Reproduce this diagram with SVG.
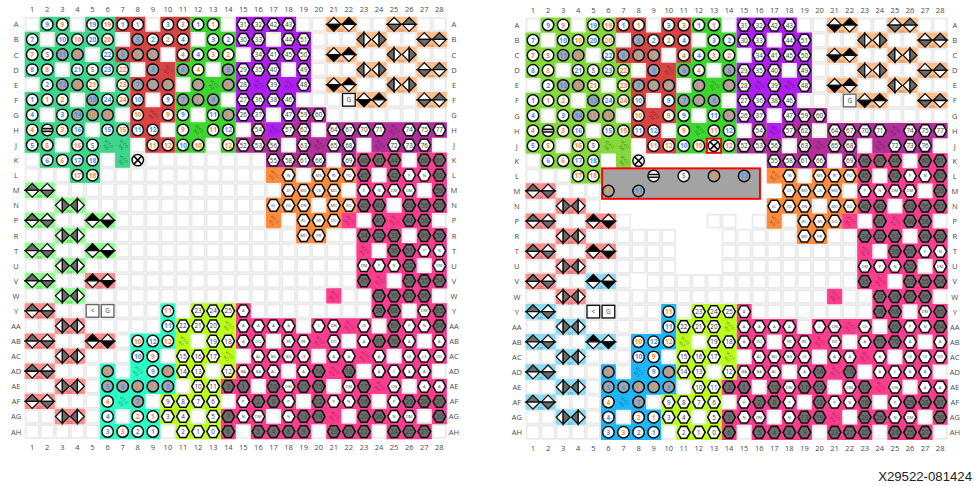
<svg xmlns="http://www.w3.org/2000/svg" width="974" height="486" viewBox="0 0 974 486">
<style>
text{font-family:"Open Sans","Liberation Sans",sans-serif;text-anchor:middle;dominant-baseline:central;font-size:.42px;font-weight:500;fill:#3a3a3a}
.b text{fill:#3f94f2;font-size:.44px;font-weight:700}.o text{fill:#f28e34;font-size:.44px;font-weight:700}
.t text{font-size:.27px;fill:#444}
.a text{font-size:.5px;font-weight:400;fill:#4a4a4a}
.d text{font-size:.22px;fill:#000;fill-opacity:.55}
.v text{font-size:.26px;fill:#000;fill-opacity:.6}
.f{fill:none;stroke-width:1.02}
.m{fill:none;stroke:none}
marker{overflow:visible}
.mc{marker:url(#c)}.mg{marker:url(#g)}.mh{marker:url(#h)}.mH{marker:url(#H)}
.wk{marker:url(#wk)}.kw{marker:url(#kw)}.gw{marker:url(#gw)}.wg{marker:url(#wg)}.lw{marker:url(#lw)}.wl{marker:url(#wl)}
.bx{fill:#fff;stroke-width:.09}
.p{stroke:#0c0c0c;stroke-width:.1}
.q{stroke:#111;stroke-width:.085}
</style>
<defs>
<pattern id="grid" patternUnits="userSpaceOnUse" x="-.5" y="-.5" width="1" height="1"><rect x=".07" y=".07" width=".86" height=".86" fill="#fff" stroke="#e6e6e6" stroke-width=".1"/></pattern>
<marker id="c" markerUnits="userSpaceOnUse" markerWidth="1" markerHeight="1" refX=".5" refY=".5" viewBox="0 0 1 1"><circle class="p" cx=".5" cy=".5" r=".38" fill="#fff"/></marker>
<marker id="g" markerUnits="userSpaceOnUse" markerWidth="1" markerHeight="1" refX=".5" refY=".5" viewBox="0 0 1 1"><circle class="p" cx=".5" cy=".5" r=".38" fill="#a6a6a6"/></marker>
<marker id="h" markerUnits="userSpaceOnUse" markerWidth="1" markerHeight="1" refX=".5" refY=".5" viewBox="0 0 1 1"><path class="p" fill="#fff" d="M.08 .5L.3 .11H.7L.92 .5 .7 .89H.3z"/></marker>
<marker id="H" markerUnits="userSpaceOnUse" markerWidth="1" markerHeight="1" refX=".5" refY=".5" viewBox="0 0 1 1"><path class="p" fill="#6e6e6e" d="M.08 .5L.3 .11H.7L.92 .5 .7 .89H.3z"/></marker>
<marker id="wk" markerUnits="userSpaceOnUse" markerWidth="1" markerHeight="1" refX=".5" refY=".5" viewBox="0 0 1 1"><g class="q"><path fill="#fff" d="M.04 .5L.5 .04 .96 .5z"/><path fill="#000" d="M.04 .5L.5 .96 .96 .5z"/></g></marker>
<marker id="kw" markerUnits="userSpaceOnUse" markerWidth="1" markerHeight="1" refX=".5" refY=".5" viewBox="0 0 1 1"><g class="q"><path fill="#000" d="M.04 .5L.5 .04 .96 .5z"/><path fill="#fff" d="M.04 .5L.5 .96 .96 .5z"/></g></marker>
<marker id="gw" markerUnits="userSpaceOnUse" markerWidth="1" markerHeight="1" refX=".5" refY=".5" viewBox="0 0 1 1"><g class="q"><path fill="#6a6a6a" d="M.04 .5L.5 .04 .96 .5z"/><path fill="#fff" d="M.04 .5L.5 .96 .96 .5z"/></g></marker>
<marker id="wg" markerUnits="userSpaceOnUse" markerWidth="1" markerHeight="1" refX=".5" refY=".5" viewBox="0 0 1 1"><g class="q"><path fill="#fff" d="M.04 .5L.5 .04 .96 .5z"/><path fill="#6a6a6a" d="M.04 .5L.5 .96 .96 .5z"/></g></marker>
<marker id="lw" markerUnits="userSpaceOnUse" markerWidth="1" markerHeight="1" refX=".5" refY=".5" viewBox="0 0 1 1"><g class="q"><path fill="#6a6a6a" d="M.5 .04L.04 .5 .5 .96z"/><path fill="#fff" d="M.5 .04L.96 .5 .5 .96z"/></g></marker>
<marker id="wl" markerUnits="userSpaceOnUse" markerWidth="1" markerHeight="1" refX=".5" refY=".5" viewBox="0 0 1 1"><g class="q"><path fill="#fff" d="M.5 .04L.04 .5 .5 .96z"/><path fill="#6a6a6a" d="M.5 .04L.96 .5 .5 .96z"/></g></marker>
<g id="minus"><circle class="p" r=".38" fill="#fff"/><path stroke="#0c0c0c" stroke-width=".11" d="M-.36 -.09H.36M-.38 .09H.38"/></g>
<g id="cross"><circle class="p" r=".38" fill="#fff"/><path stroke="#0c0c0c" stroke-width=".11" d="M-.26 -.26L.26 .26M-.26 .26L.26 -.26"/></g>
<g id="base">
<g class="f" transform="translate(-.5 0)">
<path style="stroke:var(--a)" d="M1 0H3M4 0H6M0 1H1M2 1H6M0 2H4M5 2H6M0 3H2M3 3H7M1 4H5M6 4H7M0 5H3M4 5H7M0 6H1M2 6H6M0 7H4M5 7H7M0 8H2M3 8H7M1 9H5M6 9H7M3 10H5"/>
<path stroke="#d94343" d="M6 0H8M9 0H11M7 1H11M6 2H9M10 2H11M8 3H10M7 4H10M7 5H8M9 5H10M7 6H10M7 7H9M8 8H10"/>
<path stroke="#3dd62f" d="M11 0H13M12 1H14M11 2H14M10 3H12M13 3H14M11 4H14M10 5H13M10 6H11M12 6H14M10 7H14M10 8H12M13 8H14"/>
<path stroke="#b01ff2" d="M14 0H18M14 1H16M17 1H19M15 2H19M14 3H17M18 3H19M14 4H19M14 5H18M14 6H16M17 6H18M16 7H17"/>
<path stroke="#b3309a" d="M18 6H20M15 7H16M17 7H19M20 7H28M14 8H17M18 8H22M23 8H27M16 9H20M21 9H22"/>
<path stroke="#ff8c3c" d="M16 10H18M19 10H22M17 11H21M16 12H19M20 12H22M16 13H17M18 13H21M18 14H20"/>
<path stroke="#ff3d8f" d="M22 9H25M26 9H28M22 10H23M24 10H28M22 11H26M27 11H28M22 12H24M25 12H28M21 13H22M23 13H27M22 14H25M26 14H28M22 15H23M24 15H28M22 16H26M27 16H28M22 17H24M25 17H28M20 18H21M23 18H27M14 19H15M23 19H25M26 19H28M14 20H18M19 20H23M24 20H28M14 21H16M17 21H21M22 21H26M27 21H28M15 22H19M20 22H24M25 22H28M14 23H17M18 23H22M23 23H27M13 24H15M16 24H20M21 24H25M26 24H28M14 25H18M19 25H23M24 25H28M13 26H16M17 26H21M22 26H26M27 26H28M13 27H14M15 27H19M20 27H23M24 27H27"/>
<path style="stroke:var(--l)" d="M0 11H2M2 12H4M0 13H2M4 13H6M2 14H4M0 15H2M4 15H6M2 16H4M0 17H2M2 18H4"/>
<path style="stroke:var(--s)" d="M4 17H6M0 19H2M2 20H4M0 21H2M4 21H6M2 22H4M0 23H2M2 24H4M0 25H2M2 26H4"/>
<path stroke="#ffbe8c" d="M20 0H22M24 0H26M22 1H24M26 1H28M20 2H22M24 2H26M22 3H24M26 3H28M20 4H22M24 4H26M22 5H24M26 5H28"/>
<path style="stroke:var(--t)" d="M9 19H10M9 20H10M7 21H10M7 22H9M5 23H6M7 23H10M5 24H10M5 25H8M5 26H6M7 26H9M5 27H9"/>
<path stroke="#bcff1a" d="M11 19H14M10 20H14M10 21H11M12 21H14M10 22H14M10 23H12M13 23H14M11 24H13M9 25H13M9 26H11M12 26H13M10 27H13"/>
</g>
<g class="m">
<path class="mc" d="M1 0H2 4 5 6 7 9 10 11 12L0 1H2 3 4 5 8 9 10 12 13L0 2H1 5 10 11 12 13L0 3H1 3 4 5 6 11L1 4H4 6L0 5H1 2 5 6 7 9L0 6H2 7 9 10 12L0 7H2 3 5 6 7 8 10 12 13L0 8H1 3 4 8 9 10 11 13L1 9H2 3 4L3 10H4L9 19L9 20L7 21H8 9L7 22H8L8 23L5 25L5 26H7 8L5 27H6 7 8"/>
<path class="mg" d="M7 1L2 2H3 6 7 8L8 3H10 13L2 4H3 7 8 9 11 13L4 5H10 11 12L3 6H4 5 13L5 23H9L5 24H6 7 8 9L7 25"/>
<path class="mh" d="M14 0H15 16 17L14 1H15 17 18L15 2H16 17 18L14 3H15 16 18L14 4H16 18L14 5H15 16 17L14 6H15 17 18 19L15 7H17 18 20 21 22 23 25 26 27L14 8H15 16 18 20 21 24 25 26L16 9H17 18 19 21L17 10H19 20 21 25 26L17 11H18 19 20 22 23 24 25L16 12H17 18 20 21L18 13H19 20L18 14H19L26 15H27L22 16H23 24 27L11 19H12 13 14 26L10 20H11 12 14 15 16 17 19 20 22 25 26L12 21H13 14 15 17 18 20 22 25 27L10 22H11 12 15 16 17 18 20 21 23 25 26 27L10 23H11 13 14 15 16 18 23 24 25 26L11 24H12 17 21 24 26 27L9 25H10 11 12 14 17 20 21 24L9 26H10 12 14 15 17 24 25L10 27H11 12"/>
<path class="mH" d="M22 9H23 24 26 27L22 10H24 27L27 11L22 12H23 25 26 27L23 13H25 26L22 14H23 24 26 27L24 15H25L25 16L22 17H25 26 27L23 18H24 25 26L23 19H24 27L24 20H27L23 21H24L19 23H21L13 24H14 16 18 19 22L15 25H16 19 22 25 26 27L13 26H18 19 22 23 27L13 27H15 16 17 18 20 21 22 24 25 26"/>
<path class="wk" d="M20 0V2 4L22 5L5 13V15 17 21"/>
<path class="kw" d="M21 0V2 4L23 5L4 13V15 17 21"/>
<path class="gw" d="M0 11V13 15 17 19 21 23 25L25 0L27 1V3 5"/>
<path class="wg" d="M1 11V13 15 17 19 21 23 25L24 0L26 1V3 5"/>
<path class="lw" d="M22 1V3L24 2V4L3 12V14 16 18 20 22 24 26"/>
<path class="wl" d="M23 1V3L25 2V4L2 12V14 16 18 20 22 24 26"/>
</g>
<use href="#minus" x="1" y="7"/>
<use href="#cross" x="7" y="9"/>
</g>
</defs>

<g id="panel-left" transform="translate(32.2 24.4) scale(15.08)" style="--a:#3dd68c;--l:#8fff8f;--s:#ff8f8f;--t:#2bffc6">
<rect x="-.5" y="-.5" width="28" height="28" fill="url(#grid)"/>
<use href="#base"/>
<rect class="bx" stroke="#111" x="20.58" y="4.58" width=".84" height=".84"/>
<rect class="bx" stroke="#666" x="3.58" y="18.58" width=".84" height=".84"/>
<rect class="bx" stroke="#666" x="4.58" y="18.58" width=".84" height=".84"/>
<text x="21" y="5">G</text><text x="4" y="19">&lt;</text><text x="5" y="19">G</text>
<g class="a">
<g transform="translate(0 -1)"><text>1</text><text x="1">2</text><text x="2">3</text><text x="3">4</text><text x="4">5</text><text x="5">6</text><text x="6">7</text><text x="7">8</text><text x="8">9</text><text x="9">10</text><text x="10">11</text><text x="11">12</text><text x="12">13</text><text x="13">14</text><text x="14">15</text><text x="15">16</text><text x="16">17</text><text x="17">18</text><text x="18">19</text><text x="19">20</text><text x="20">21</text><text x="21">22</text><text x="22">23</text><text x="23">24</text><text x="24">25</text><text x="25">26</text><text x="26">27</text><text x="27">28</text></g>
<g transform="translate(0 28.03)"><text>1</text><text x="1">2</text><text x="2">3</text><text x="3">4</text><text x="4">5</text><text x="5">6</text><text x="6">7</text><text x="7">8</text><text x="8">9</text><text x="9">10</text><text x="10">11</text><text x="11">12</text><text x="12">13</text><text x="13">14</text><text x="14">15</text><text x="15">16</text><text x="16">17</text><text x="17">18</text><text x="18">19</text><text x="19">20</text><text x="20">21</text><text x="21">22</text><text x="22">23</text><text x="23">24</text><text x="24">25</text><text x="25">26</text><text x="26">27</text><text x="27">28</text></g>
<g transform="translate(-1.07 0)"><text>A</text><text y="1">B</text><text y="2">C</text><text y="3">D</text><text y="4">E</text><text y="5">F</text><text y="6">G</text><text y="7">H</text><text y="8">J</text><text y="9">K</text><text y="10">L</text><text y="11">M</text><text y="12">N</text><text y="13">P</text><text y="14">R</text><text y="15">T</text><text y="16">U</text><text y="17">V</text><text y="18">W</text><text y="19">Y</text><text y="20">AA</text><text y="21">AB</text><text y="22">AC</text><text y="23">AD</text><text y="24">AE</text><text y="25">AF</text><text y="26">AG</text><text y="27">AH</text></g>
<g transform="translate(27.97 0)"><text>A</text><text y="1">B</text><text y="2">C</text><text y="3">D</text><text y="4">E</text><text y="5">F</text><text y="6">G</text><text y="7">H</text><text y="8">J</text><text y="9">K</text><text y="10">L</text><text y="11">M</text><text y="12">N</text><text y="13">P</text><text y="14">R</text><text y="15">T</text><text y="16">U</text><text y="17">V</text><text y="18">W</text><text y="19">Y</text><text y="20">AA</text><text y="21">AB</text><text y="22">AC</text><text y="23">AD</text><text y="24">AE</text><text y="25">AF</text><text y="26">AG</text><text y="27">AH</text></g>
</g>
<g class="b"><text x="1" y="0">9</text><text x="4" y="0">19</text><text x="6" y="0">1</text><text x="9" y="0">3</text><text x="11" y="0">1</text><text x="0" y="1">7</text><text x="2" y="1">10</text><text x="4" y="1">20</text><text x="7" y="1">5</text><text x="8" y="1">2</text><text x="10" y="1">4</text><text x="12" y="1">3</text><text x="13" y="1">2</text><text x="2" y="2">11</text><text x="5" y="2">22</text><text x="6" y="2">6</text><text x="11" y="2">4</text><text x="0" y="3">8</text><text x="3" y="3">21</text><text x="5" y="3">23</text><text x="8" y="3">8</text><text x="10" y="3">6</text><text x="13" y="3">5</text><text x="1" y="4">2</text><text x="2" y="4">12</text><text x="7" y="4">7</text><text x="0" y="5">1</text><text x="4" y="5">13</text><text x="5" y="5">24</text><text x="7" y="5">10</text><text x="9" y="5">9</text><text x="10" y="5">7</text><text x="12" y="5">8</text><text x="0" y="6">4</text><text x="2" y="6">3</text><text x="3" y="6">14</text><text x="10" y="6">9</text><text x="12" y="6">11</text><text x="3" y="7">16</text><text x="5" y="7">15</text><text x="7" y="7">11</text><text x="8" y="7">12</text><text x="13" y="7">12</text><text x="0" y="8">5</text><text x="10" y="8">10</text><text x="1" y="9">6</text><text x="3" y="9">17</text><text x="4" y="9">18</text><text x="9" y="20">11</text><text x="8" y="21">12</text><text x="7" y="22">10</text><text x="8" y="23">9</text><text x="5" y="24">5</text><text x="6" y="24">6</text><text x="9" y="24">8</text><text x="7" y="25">7</text><text x="5" y="26">4</text><text x="5" y="27">3</text><text x="7" y="27">2</text><text x="8" y="27">1</text></g>
<g class="o"><text x="2" y="0">9</text><text x="5" y="0">19</text><text x="7" y="0">1</text><text x="10" y="0">3</text><text x="12" y="0">1</text><text x="3" y="1">10</text><text x="5" y="1">20</text><text x="9" y="1">2</text><text x="0" y="2">7</text><text x="3" y="2">11</text><text x="7" y="2">6</text><text x="8" y="2">5</text><text x="10" y="2">4</text><text x="12" y="2">3</text><text x="13" y="2">2</text><text x="1" y="3">8</text><text x="6" y="3">22</text><text x="11" y="3">4</text><text x="3" y="4">12</text><text x="4" y="4">21</text><text x="6" y="4">23</text><text x="8" y="4">7</text><text x="9" y="4">8</text><text x="11" y="4">6</text><text x="13" y="4">5</text><text x="1" y="5">1</text><text x="2" y="5">2</text><text x="6" y="5">24</text><text x="11" y="5">7</text><text x="4" y="6">14</text><text x="5" y="6">13</text><text x="7" y="6">10</text><text x="9" y="6">9</text><text x="13" y="6">8</text><text x="0" y="7">4</text><text x="2" y="7">3</text><text x="6" y="7">15</text><text x="10" y="7">9</text><text x="12" y="7">11</text><text x="1" y="8">5</text><text x="3" y="8">16</text><text x="8" y="8">11</text><text x="9" y="8">12</text><text x="11" y="8">10</text><text x="13" y="8">12</text><text x="2" y="9">6</text><text x="3" y="10">17</text><text x="4" y="10">18</text><text x="9" y="19">11</text><text x="7" y="21">10</text><text x="9" y="21">12</text><text x="8" y="22">9</text><text x="5" y="23">5</text><text x="9" y="23">8</text><text x="7" y="24">6</text><text x="8" y="24">7</text><text x="5" y="25">4</text><text x="7" y="26">2</text><text x="8" y="26">1</text><text x="6" y="27">3</text></g>
<g><text x="1" y="2">S</text><text x="4" y="3">S</text><text x="4" y="8">S</text><text x="14" y="0">31</text><text x="15" y="0">32</text><text x="16" y="0">42</text><text x="17" y="0">43</text><text x="14" y="1">30</text><text x="15" y="1">33</text><text x="17" y="1">44</text><text x="18" y="1">51</text><text x="15" y="2">34</text><text x="16" y="2">41</text><text x="17" y="2">45</text><text x="18" y="2">50</text><text x="14" y="3">29</text><text x="15" y="3">35</text><text x="16" y="3">40</text><text x="18" y="3">49</text><text x="14" y="4">28</text><text x="16" y="4">39</text><text x="18" y="4">48</text><text x="14" y="5">27</text><text x="15" y="5">36</text><text x="16" y="5">38</text><text x="17" y="5">46</text><text x="14" y="6">26</text><text x="15" y="6">37</text><text x="17" y="6">47</text><text x="18" y="6">59</text><text x="19" y="6">60</text><text x="15" y="7">54</text><text x="17" y="7">57</text><text x="18" y="7">62</text><text x="20" y="7">64</text><text x="21" y="7">67</text><text x="22" y="7">70</text><text x="23" y="7">71</text><text x="25" y="7">74</text><text x="26" y="7">75</text><text x="27" y="7">77</text><text x="14" y="8">52</text><text x="15" y="8">53</text><text x="16" y="8">56</text><text x="18" y="8">63</text><text x="20" y="8">65</text><text x="21" y="8">68</text><text x="24" y="8">72</text><text x="25" y="8">73</text><text x="26" y="8">76</text><text x="16" y="9">55</text><text x="17" y="9">58</text><text x="18" y="9">61</text><text x="19" y="9">66</text><text x="21" y="9">69</text><text x="11" y="19">23</text><text x="12" y="19">24</text><text x="13" y="19">25</text><text x="10" y="20">22</text><text x="11" y="20">21</text><text x="12" y="20">20</text><text x="12" y="21">19</text><text x="13" y="21">18</text><text x="10" y="22">15</text><text x="11" y="22">16</text><text x="12" y="22">17</text><text x="10" y="23">14</text><text x="11" y="23">13</text><text x="13" y="23">12</text><text x="11" y="24">10</text><text x="12" y="24">11</text><text x="9" y="25">9</text><text x="10" y="25">8</text><text x="11" y="25">7</text><text x="12" y="25">6</text><text x="9" y="26">3</text><text x="10" y="26">4</text><text x="12" y="26">5</text><text x="10" y="27">2</text><text x="11" y="27">1</text><text x="12" y="27">0</text>
<text x="22" y="9">46</text><text x="23" y="9">47</text><text x="24" y="9">44</text><text x="26" y="9">60</text><text x="27" y="9">61</text><text x="22" y="10">45</text><text x="24" y="10">42</text><text x="27" y="10">62</text><text x="27" y="11">59</text><text x="22" y="12">40</text><text x="23" y="12">43</text><text x="25" y="12">63</text><text x="26" y="12">56</text><text x="27" y="12">57</text><text x="23" y="13">41</text><text x="25" y="13">48</text><text x="26" y="13">58</text><text x="22" y="14">34</text><text x="23" y="14">32</text><text x="24" y="14">33</text><text x="26" y="14">49</text><text x="27" y="14">50</text><text x="24" y="15">36</text><text x="25" y="15">51</text><text x="25" y="16">52</text><text x="22" y="17">35</text><text x="25" y="17">53</text><text x="26" y="17">55</text><text x="27" y="17">54</text><text x="23" y="18">37</text><text x="24" y="18">39</text><text x="25" y="18">67</text><text x="26" y="18">66</text><text x="23" y="19">38</text><text x="24" y="19">68</text><text x="27" y="19">65</text><text x="24" y="20">69</text><text x="27" y="20">64</text><text x="23" y="21">71</text><text x="24" y="21">70</text><text x="19" y="23">14</text><text x="21" y="23">18</text><text x="13" y="24">3</text><text x="14" y="24">1</text><text x="16" y="24">10</text><text x="18" y="24">11</text><text x="19" y="24">15</text><text x="22" y="24">17</text><text x="15" y="25">2</text><text x="16" y="25">0</text><text x="19" y="25">12</text><text x="22" y="25">16</text><text x="25" y="25">29</text><text x="26" y="25">28</text><text x="27" y="25">31</text><text x="13" y="26">7</text><text x="18" y="26">13</text><text x="19" y="26">19</text><text x="22" y="26">20</text><text x="23" y="26">26</text><text x="27" y="26">30</text><text x="13" y="27">6</text><text x="15" y="27">5</text><text x="16" y="27">4</text><text x="17" y="27">8</text><text x="18" y="27">9</text><text x="20" y="27">23</text><text x="21" y="27">21</text><text x="22" y="27">22</text><text x="24" y="27">24</text><text x="25" y="27">25</text><text x="26" y="27">27</text></g>
<g class="t"><text x="17" y="10">IN</text><text x="19" y="10">MS</text><text x="20" y="10">RI</text><text x="21" y="10">FO</text><text x="25" y="10">P</text><text x="26" y="10">N</text><text x="17" y="11">DI</text><text x="18" y="11">MD</text><text x="19" y="11">CK</text><text x="20" y="11">MD</text><text x="22" y="11">P</text><text x="23" y="11">N</text><text x="24" y="11">DM</text><text x="25" y="11">DM</text><text x="16" y="12">EL</text><text x="17" y="12">FO</text><text x="18" y="12">DN</text><text x="20" y="12">MD</text><text x="21" y="12">EO</text><text x="18" y="13">RC</text><text x="19" y="13">SR</text><text x="20" y="13">DO</text><text x="18" y="14">MD</text><text x="19" y="14">PR</text><text x="26" y="15">P</text><text x="27" y="15">N</text><text x="22" y="16">DM</text><text x="23" y="16">P</text><text x="24" y="16">N</text><text x="27" y="16">DM</text><text x="14" y="19">A</text><text x="26" y="19">DM</text><text x="14" y="20">A</text><text x="15" y="20">A</text><text x="16" y="20">A</text><text x="17" y="20">A</text><text x="19" y="20">C</text><text x="20" y="20">ON</text><text x="22" y="20">CE</text><text x="25" y="20">P</text><text x="26" y="20">N</text><text x="14" y="21">A</text><text x="15" y="21">DQ</text><text x="17" y="21">RS</text><text x="18" y="21">RE</text><text x="20" y="21">DD</text><text x="22" y="21">A</text><text x="25" y="21">A</text><text x="27" y="21">A</text><text x="15" y="22">AL</text><text x="16" y="22">BG</text><text x="17" y="22">BG</text><text x="18" y="22">CE</text><text x="20" y="22">A</text><text x="21" y="22">A</text><text x="23" y="22">A</text><text x="25" y="22">CE</text><text x="26" y="22">CE</text><text x="27" y="22">DD</text><text x="14" y="23">BA</text><text x="15" y="23">BA</text><text x="16" y="23">AC</text><text x="18" y="23">A</text><text x="23" y="23">A</text><text x="24" y="23">C</text><text x="25" y="23">A</text><text x="26" y="23">A</text><text x="17" y="24">DM</text><text x="21" y="24">DM</text><text x="24" y="24">ON</text><text x="26" y="24">A</text><text x="27" y="24">A</text><text x="14" y="25">P</text><text x="17" y="25">P</text><text x="20" y="25">P</text><text x="21" y="25">N</text><text x="24" y="25">P</text><text x="14" y="26">N</text><text x="15" y="26">DM</text><text x="17" y="26">N</text><text x="24" y="26">N</text><text x="25" y="26">DM</text></g>
<g class="d" transform="translate(.47 .43)"><text x="20" y="0">505</text><text x="24" y="0">505</text><text x="22" y="1">505</text><text x="26" y="1">505</text><text x="20" y="2">505</text><text x="24" y="2">505</text><text x="22" y="3">505</text><text x="26" y="3">505</text><text x="20" y="4">505</text><text x="24" y="4">505</text><text x="22" y="5">505</text><text x="26" y="5">505</text><text x="0" y="11">206</text><text x="2" y="12">206</text><text x="0" y="13">206</text><text x="4" y="13">206</text><text x="2" y="14">206</text><text x="0" y="15">206</text><text x="4" y="15">206</text><text x="2" y="16">206</text><text x="0" y="17">206</text><text x="2" y="18">206</text><text x="4" y="17">205</text><text x="0" y="19">205</text><text x="2" y="20">205</text><text x="0" y="21">205</text><text x="4" y="21">205</text><text x="2" y="22">205</text><text x="0" y="23">205</text><text x="2" y="24">205</text><text x="0" y="25">205</text><text x="2" y="26">205</text></g>
<g class="v" transform="translate(.09 -.09)"><text transform="translate(5 8)rotate(45)">VCCO<tspan x="0" dy=".27">700</tspan></text><text transform="translate(6 8)rotate(45)">VCCO<tspan x="0" dy=".27">700</tspan></text><text transform="translate(6 9)rotate(45)">VCCO<tspan x="0" dy=".27">700</tspan></text><text transform="translate(9 3)rotate(45)">VCCO<tspan x="0" dy=".27">701</tspan></text><text transform="translate(8 6)rotate(45)">VCCO<tspan x="0" dy=".27">701</tspan></text><text transform="translate(12 4)rotate(45)">VCCO<tspan x="0" dy=".27">702</tspan></text><text transform="translate(11 7)rotate(45)">VCCO<tspan x="0" dy=".27">702</tspan></text><text transform="translate(15 4)rotate(45)">VCCO<tspan x="0" dy=".27">301</tspan></text><text transform="translate(17 4)rotate(45)">VCCO<tspan x="0" dy=".27">301</tspan></text><text transform="translate(16 7)rotate(45)">VCCO<tspan x="0" dy=".27">301</tspan></text><text transform="translate(24 7)rotate(45)">VCCO<tspan x="0" dy=".27">302</tspan></text><text transform="translate(19 8)rotate(45)">VCCO<tspan x="0" dy=".27">302</tspan></text><text transform="translate(23 8)rotate(45)">VCCO<tspan x="0" dy=".27">302</tspan></text><text transform="translate(16 10)rotate(45)">VCCO<tspan x="0" dy=".27">303</tspan></text><text transform="translate(16 13)rotate(45)">VCCO<tspan x="0" dy=".27">303</tspan></text><text transform="translate(21 13)rotate(45)">VCCO<tspan x="0" dy=".27">304</tspan></text><text transform="translate(24 13)rotate(45)">VCCO<tspan x="0" dy=".27">304</tspan></text><text transform="translate(22 15)rotate(45)">VCCO<tspan x="0" dy=".27">304</tspan></text><text transform="translate(23 17)rotate(45)">VCCO<tspan x="0" dy=".27">304</tspan></text><text transform="translate(20 18)rotate(45)">VCCO<tspan x="0" dy=".27">304</tspan></text><text transform="translate(21 20)rotate(45)">VCCO<tspan x="0" dy=".27">304</tspan></text><text transform="translate(19 21)rotate(45)">VCCO<tspan x="0" dy=".27">304</tspan></text><text transform="translate(22 22)rotate(45)">VCCO<tspan x="0" dy=".27">304</tspan></text><text transform="translate(20 23)rotate(45)">VCCO<tspan x="0" dy=".27">304</tspan></text><text transform="translate(23 24)rotate(45)">VCCO<tspan x="0" dy=".27">304</tspan></text><text transform="translate(20 26)rotate(45)">VCCO<tspan x="0" dy=".27">304</tspan></text><text transform="translate(13 20)rotate(45)">VCCO<tspan x="0" dy=".27">402</tspan></text><text transform="translate(10 21)rotate(45)">VCCO<tspan x="0" dy=".27">402</tspan></text><text transform="translate(13 22)rotate(45)">VCCO<tspan x="0" dy=".27">402</tspan></text><text transform="translate(7 23)rotate(45)">VCCO<tspan x="0" dy=".27">403</tspan></text><text transform="translate(6 25)rotate(45)">VCCO<tspan x="0" dy=".27">403</tspan></text></g>
</g>

<g id="panel-right" transform="translate(533 25.1) scale(15.08)" style="--a:#86d93a;--l:#ff8f8f;--s:#8cdcf5;--t:#1cb8ff">
<rect x="-.5" y="-.5" width="28" height="28" fill="url(#grid)"/>
<path class="f" stroke="#fff" transform="translate(-.5 0)" d="M7 8H8M5 9H6M8 9H16M5 10H16M5 11H17M5 12H16M7 13H12M14 13H15M10 14H13M10 15H13M10 16H13M7 17H8"/>
<use href="#base"/>
<rect x="4.58" y="9.5" width="10.47" height="2.02" fill="#a3a3a3" stroke="#f00" stroke-width=".13"/>
<path class="m mg" d="M12 10H14L5 11H7"/>
<use href="#minus" x="8" y="10"/>
<circle class="p" cx="10" cy="10" r=".38" fill="#fff"/>
<rect x="11.53" y="7.53" width=".94" height=".94" fill="#fff" stroke="#f00" stroke-width=".13"/>
<use href="#cross" x="12" y="8"/>
<rect class="bx" stroke="#666" x="20.58" y="4.58" width=".84" height=".84"/>
<rect class="bx" stroke="#111" x="3.58" y="18.58" width=".84" height=".84"/>
<rect class="bx" stroke="#111" x="4.58" y="18.58" width=".84" height=".84"/>
<text x="21" y="5">G</text><text x="4" y="19">&lt;</text><text x="5" y="19">G</text>
<text x="10" y="10">S</text>
<g class="o"><text x="12" y="10">12</text><text x="5" y="11">11</text></g>
<g class="b"><text x="14" y="10">12</text><text x="7" y="11">11</text></g>
<g class="a">
<g transform="translate(0 -1)"><text>1</text><text x="1">2</text><text x="2">3</text><text x="3">4</text><text x="4">5</text><text x="5">6</text><text x="6">7</text><text x="7">8</text><text x="8">9</text><text x="9">10</text><text x="10">11</text><text x="11">12</text><text x="12">13</text><text x="13">14</text><text x="14">15</text><text x="15">16</text><text x="16">17</text><text x="17">18</text><text x="18">19</text><text x="19">20</text><text x="20">21</text><text x="21">22</text><text x="22">23</text><text x="23">24</text><text x="24">25</text><text x="25">26</text><text x="26">27</text><text x="27">28</text></g>
<g transform="translate(0 28.03)"><text>1</text><text x="1">2</text><text x="2">3</text><text x="3">4</text><text x="4">5</text><text x="5">6</text><text x="6">7</text><text x="7">8</text><text x="8">9</text><text x="9">10</text><text x="10">11</text><text x="11">12</text><text x="12">13</text><text x="13">14</text><text x="14">15</text><text x="15">16</text><text x="16">17</text><text x="17">18</text><text x="18">19</text><text x="19">20</text><text x="20">21</text><text x="21">22</text><text x="22">23</text><text x="23">24</text><text x="24">25</text><text x="25">26</text><text x="26">27</text><text x="27">28</text></g>
<g transform="translate(-1.07 0)"><text>A</text><text y="1">B</text><text y="2">C</text><text y="3">D</text><text y="4">E</text><text y="5">F</text><text y="6">G</text><text y="7">H</text><text y="8">J</text><text y="9">K</text><text y="10">L</text><text y="11">M</text><text y="12">N</text><text y="13">P</text><text y="14">R</text><text y="15">T</text><text y="16">U</text><text y="17">V</text><text y="18">W</text><text y="19">Y</text><text y="20">AA</text><text y="21">AB</text><text y="22">AC</text><text y="23">AD</text><text y="24">AE</text><text y="25">AF</text><text y="26">AG</text><text y="27">AH</text></g>
<g transform="translate(27.97 0)"><text>A</text><text y="1">B</text><text y="2">C</text><text y="3">D</text><text y="4">E</text><text y="5">F</text><text y="6">G</text><text y="7">H</text><text y="8">J</text><text y="9">K</text><text y="10">L</text><text y="11">M</text><text y="12">N</text><text y="13">P</text><text y="14">R</text><text y="15">T</text><text y="16">U</text><text y="17">V</text><text y="18">W</text><text y="19">Y</text><text y="20">AA</text><text y="21">AB</text><text y="22">AC</text><text y="23">AD</text><text y="24">AE</text><text y="25">AF</text><text y="26">AG</text><text y="27">AH</text></g>
</g>
<g class="b"><text x="1" y="0">9</text><text x="4" y="0">19</text><text x="6" y="0">1</text><text x="9" y="0">3</text><text x="11" y="0">1</text><text x="0" y="1">7</text><text x="2" y="1">10</text><text x="4" y="1">20</text><text x="7" y="1">5</text><text x="8" y="1">2</text><text x="10" y="1">4</text><text x="12" y="1">3</text><text x="13" y="1">2</text><text x="2" y="2">11</text><text x="5" y="2">22</text><text x="6" y="2">6</text><text x="11" y="2">4</text><text x="0" y="3">8</text><text x="3" y="3">21</text><text x="5" y="3">23</text><text x="8" y="3">8</text><text x="10" y="3">6</text><text x="13" y="3">5</text><text x="1" y="4">2</text><text x="2" y="4">12</text><text x="7" y="4">7</text><text x="0" y="5">1</text><text x="4" y="5">13</text><text x="5" y="5">24</text><text x="7" y="5">10</text><text x="9" y="5">9</text><text x="10" y="5">7</text><text x="12" y="5">8</text><text x="0" y="6">4</text><text x="2" y="6">3</text><text x="3" y="6">14</text><text x="10" y="6">9</text><text x="12" y="6">11</text><text x="3" y="7">16</text><text x="5" y="7">15</text><text x="7" y="7">11</text><text x="8" y="7">12</text><text x="13" y="7">12</text><text x="0" y="8">5</text><text x="10" y="8">10</text><text x="1" y="9">6</text><text x="3" y="9">17</text><text x="4" y="9">18</text><text x="9" y="20">11</text><text x="8" y="21">12</text><text x="7" y="22">10</text><text x="8" y="23">9</text><text x="5" y="24">5</text><text x="6" y="24">6</text><text x="9" y="24">8</text><text x="7" y="25">7</text><text x="5" y="26">4</text><text x="5" y="27">3</text><text x="7" y="27">2</text><text x="8" y="27">1</text></g>
<g class="o"><text x="2" y="0">9</text><text x="5" y="0">19</text><text x="7" y="0">1</text><text x="10" y="0">3</text><text x="12" y="0">1</text><text x="3" y="1">10</text><text x="5" y="1">20</text><text x="9" y="1">2</text><text x="0" y="2">7</text><text x="3" y="2">11</text><text x="7" y="2">6</text><text x="8" y="2">5</text><text x="10" y="2">4</text><text x="12" y="2">3</text><text x="13" y="2">2</text><text x="1" y="3">8</text><text x="6" y="3">22</text><text x="11" y="3">4</text><text x="3" y="4">12</text><text x="4" y="4">21</text><text x="6" y="4">23</text><text x="8" y="4">7</text><text x="9" y="4">8</text><text x="11" y="4">6</text><text x="13" y="4">5</text><text x="1" y="5">1</text><text x="2" y="5">2</text><text x="6" y="5">24</text><text x="11" y="5">7</text><text x="4" y="6">14</text><text x="5" y="6">13</text><text x="7" y="6">10</text><text x="9" y="6">9</text><text x="13" y="6">8</text><text x="0" y="7">4</text><text x="2" y="7">3</text><text x="6" y="7">15</text><text x="10" y="7">9</text><text x="12" y="7">11</text><text x="1" y="8">5</text><text x="3" y="8">16</text><text x="8" y="8">11</text><text x="9" y="8">12</text><text x="11" y="8">10</text><text x="13" y="8">12</text><text x="2" y="9">6</text><text x="3" y="10">17</text><text x="4" y="10">18</text><text x="9" y="19">11</text><text x="7" y="21">10</text><text x="9" y="21">12</text><text x="8" y="22">9</text><text x="5" y="23">5</text><text x="9" y="23">8</text><text x="7" y="24">6</text><text x="8" y="24">7</text><text x="5" y="25">4</text><text x="7" y="26">2</text><text x="8" y="26">1</text><text x="6" y="27">3</text></g>
<g><text x="1" y="2">S</text><text x="4" y="3">S</text><text x="4" y="8">S</text><text x="14" y="0">31</text><text x="15" y="0">32</text><text x="16" y="0">42</text><text x="17" y="0">43</text><text x="14" y="1">30</text><text x="15" y="1">33</text><text x="17" y="1">44</text><text x="18" y="1">51</text><text x="15" y="2">34</text><text x="16" y="2">41</text><text x="17" y="2">45</text><text x="18" y="2">50</text><text x="14" y="3">29</text><text x="15" y="3">35</text><text x="16" y="3">40</text><text x="18" y="3">49</text><text x="14" y="4">28</text><text x="16" y="4">39</text><text x="18" y="4">48</text><text x="14" y="5">27</text><text x="15" y="5">36</text><text x="16" y="5">38</text><text x="17" y="5">46</text><text x="14" y="6">26</text><text x="15" y="6">37</text><text x="17" y="6">47</text><text x="18" y="6">59</text><text x="19" y="6">60</text><text x="15" y="7">54</text><text x="17" y="7">57</text><text x="18" y="7">62</text><text x="20" y="7">64</text><text x="21" y="7">67</text><text x="22" y="7">70</text><text x="23" y="7">71</text><text x="25" y="7">74</text><text x="26" y="7">75</text><text x="27" y="7">77</text><text x="14" y="8">52</text><text x="15" y="8">53</text><text x="16" y="8">56</text><text x="18" y="8">63</text><text x="20" y="8">65</text><text x="21" y="8">68</text><text x="24" y="8">72</text><text x="25" y="8">73</text><text x="26" y="8">76</text><text x="16" y="9">55</text><text x="17" y="9">58</text><text x="18" y="9">61</text><text x="19" y="9">66</text><text x="21" y="9">69</text><text x="11" y="19">23</text><text x="12" y="19">24</text><text x="13" y="19">25</text><text x="10" y="20">22</text><text x="11" y="20">21</text><text x="12" y="20">20</text><text x="12" y="21">19</text><text x="13" y="21">18</text><text x="10" y="22">15</text><text x="11" y="22">16</text><text x="12" y="22">17</text><text x="10" y="23">14</text><text x="11" y="23">13</text><text x="13" y="23">12</text><text x="11" y="24">10</text><text x="12" y="24">11</text><text x="9" y="25">9</text><text x="10" y="25">8</text><text x="11" y="25">7</text><text x="12" y="25">6</text><text x="9" y="26">3</text><text x="10" y="26">4</text><text x="12" y="26">5</text><text x="10" y="27">2</text><text x="11" y="27">1</text><text x="12" y="27">0</text>
<text x="22" y="9">46</text><text x="23" y="9">47</text><text x="24" y="9">44</text><text x="26" y="9">60</text><text x="27" y="9">61</text><text x="22" y="10">45</text><text x="24" y="10">42</text><text x="27" y="10">62</text><text x="27" y="11">59</text><text x="22" y="12">40</text><text x="23" y="12">43</text><text x="25" y="12">63</text><text x="26" y="12">56</text><text x="27" y="12">57</text><text x="23" y="13">41</text><text x="25" y="13">48</text><text x="26" y="13">58</text><text x="22" y="14">34</text><text x="23" y="14">32</text><text x="24" y="14">33</text><text x="26" y="14">49</text><text x="27" y="14">50</text><text x="24" y="15">36</text><text x="25" y="15">51</text><text x="25" y="16">52</text><text x="22" y="17">35</text><text x="25" y="17">53</text><text x="26" y="17">55</text><text x="27" y="17">54</text><text x="23" y="18">37</text><text x="24" y="18">39</text><text x="25" y="18">67</text><text x="26" y="18">66</text><text x="23" y="19">38</text><text x="24" y="19">68</text><text x="27" y="19">65</text><text x="24" y="20">69</text><text x="27" y="20">64</text><text x="23" y="21">71</text><text x="24" y="21">70</text><text x="19" y="23">14</text><text x="21" y="23">18</text><text x="13" y="24">3</text><text x="14" y="24">1</text><text x="16" y="24">10</text><text x="18" y="24">11</text><text x="19" y="24">15</text><text x="22" y="24">17</text><text x="15" y="25">2</text><text x="16" y="25">0</text><text x="19" y="25">12</text><text x="22" y="25">16</text><text x="25" y="25">29</text><text x="26" y="25">28</text><text x="27" y="25">31</text><text x="13" y="26">7</text><text x="18" y="26">13</text><text x="19" y="26">19</text><text x="22" y="26">20</text><text x="23" y="26">26</text><text x="27" y="26">30</text><text x="13" y="27">6</text><text x="15" y="27">5</text><text x="16" y="27">4</text><text x="17" y="27">8</text><text x="18" y="27">9</text><text x="20" y="27">23</text><text x="21" y="27">21</text><text x="22" y="27">22</text><text x="24" y="27">24</text><text x="25" y="27">25</text><text x="26" y="27">27</text></g>
<g class="t"><text x="17" y="10">IN</text><text x="19" y="10">MS</text><text x="20" y="10">RI</text><text x="21" y="10">FO</text><text x="25" y="10">P</text><text x="26" y="10">N</text><text x="17" y="11">DI</text><text x="18" y="11">MD</text><text x="19" y="11">CK</text><text x="20" y="11">MD</text><text x="22" y="11">P</text><text x="23" y="11">N</text><text x="24" y="11">DM</text><text x="25" y="11">DM</text><text x="16" y="12">EL</text><text x="17" y="12">FO</text><text x="18" y="12">DN</text><text x="20" y="12">MD</text><text x="21" y="12">EO</text><text x="18" y="13">RC</text><text x="19" y="13">SR</text><text x="20" y="13">DO</text><text x="18" y="14">MD</text><text x="19" y="14">PR</text><text x="26" y="15">P</text><text x="27" y="15">N</text><text x="22" y="16">DM</text><text x="23" y="16">P</text><text x="24" y="16">N</text><text x="27" y="16">DM</text><text x="14" y="19">A</text><text x="26" y="19">DM</text><text x="14" y="20">A</text><text x="15" y="20">A</text><text x="16" y="20">A</text><text x="17" y="20">A</text><text x="19" y="20">C</text><text x="20" y="20">ON</text><text x="22" y="20">CE</text><text x="25" y="20">P</text><text x="26" y="20">N</text><text x="14" y="21">A</text><text x="15" y="21">DQ</text><text x="17" y="21">RS</text><text x="18" y="21">RE</text><text x="20" y="21">DD</text><text x="22" y="21">A</text><text x="25" y="21">A</text><text x="27" y="21">A</text><text x="15" y="22">AL</text><text x="16" y="22">BG</text><text x="17" y="22">BG</text><text x="18" y="22">CE</text><text x="20" y="22">A</text><text x="21" y="22">A</text><text x="23" y="22">A</text><text x="25" y="22">CE</text><text x="26" y="22">CE</text><text x="27" y="22">DD</text><text x="14" y="23">BA</text><text x="15" y="23">BA</text><text x="16" y="23">AC</text><text x="18" y="23">A</text><text x="23" y="23">A</text><text x="24" y="23">C</text><text x="25" y="23">A</text><text x="26" y="23">A</text><text x="17" y="24">DM</text><text x="21" y="24">DM</text><text x="24" y="24">ON</text><text x="26" y="24">A</text><text x="27" y="24">A</text><text x="14" y="25">P</text><text x="17" y="25">P</text><text x="20" y="25">P</text><text x="21" y="25">N</text><text x="24" y="25">P</text><text x="14" y="26">N</text><text x="15" y="26">DM</text><text x="17" y="26">N</text><text x="24" y="26">N</text><text x="25" y="26">DM</text></g>
<g class="d" transform="translate(.47 .43)"><text x="20" y="0">505</text><text x="24" y="0">505</text><text x="22" y="1">505</text><text x="26" y="1">505</text><text x="20" y="2">505</text><text x="24" y="2">505</text><text x="22" y="3">505</text><text x="26" y="3">505</text><text x="20" y="4">505</text><text x="24" y="4">505</text><text x="22" y="5">505</text><text x="26" y="5">505</text><text x="0" y="11">226</text><text x="2" y="12">226</text><text x="0" y="13">226</text><text x="4" y="13">226</text><text x="2" y="14">226</text><text x="0" y="15">226</text><text x="4" y="15">226</text><text x="2" y="16">226</text><text x="0" y="17">226</text><text x="2" y="18">226</text><text x="4" y="17">225</text><text x="0" y="19">225</text><text x="2" y="20">225</text><text x="0" y="21">225</text><text x="4" y="21">225</text><text x="2" y="22">225</text><text x="0" y="23">225</text><text x="2" y="24">225</text><text x="0" y="25">225</text><text x="2" y="26">225</text></g>
<g class="v" transform="translate(.09 -.09)"><text transform="translate(5 8)rotate(45)">VCCO<tspan x="0" dy=".27">700</tspan></text><text transform="translate(6 8)rotate(45)">VCCO<tspan x="0" dy=".27">700</tspan></text><text transform="translate(6 9)rotate(45)">VCCO<tspan x="0" dy=".27">700</tspan></text><text transform="translate(9 3)rotate(45)">VCCO<tspan x="0" dy=".27">701</tspan></text><text transform="translate(8 6)rotate(45)">VCCO<tspan x="0" dy=".27">701</tspan></text><text transform="translate(12 4)rotate(45)">VCCO<tspan x="0" dy=".27">702</tspan></text><text transform="translate(11 7)rotate(45)">VCCO<tspan x="0" dy=".27">702</tspan></text><text transform="translate(15 4)rotate(45)">VCCO<tspan x="0" dy=".27">301</tspan></text><text transform="translate(17 4)rotate(45)">VCCO<tspan x="0" dy=".27">301</tspan></text><text transform="translate(16 7)rotate(45)">VCCO<tspan x="0" dy=".27">301</tspan></text><text transform="translate(24 7)rotate(45)">VCCO<tspan x="0" dy=".27">302</tspan></text><text transform="translate(19 8)rotate(45)">VCCO<tspan x="0" dy=".27">302</tspan></text><text transform="translate(23 8)rotate(45)">VCCO<tspan x="0" dy=".27">302</tspan></text><text transform="translate(16 10)rotate(45)">VCCO<tspan x="0" dy=".27">303</tspan></text><text transform="translate(16 13)rotate(45)">VCCO<tspan x="0" dy=".27">303</tspan></text><text transform="translate(21 13)rotate(45)">VCCO<tspan x="0" dy=".27">304</tspan></text><text transform="translate(24 13)rotate(45)">VCCO<tspan x="0" dy=".27">304</tspan></text><text transform="translate(22 15)rotate(45)">VCCO<tspan x="0" dy=".27">304</tspan></text><text transform="translate(23 17)rotate(45)">VCCO<tspan x="0" dy=".27">304</tspan></text><text transform="translate(20 18)rotate(45)">VCCO<tspan x="0" dy=".27">304</tspan></text><text transform="translate(21 20)rotate(45)">VCCO<tspan x="0" dy=".27">304</tspan></text><text transform="translate(19 21)rotate(45)">VCCO<tspan x="0" dy=".27">304</tspan></text><text transform="translate(22 22)rotate(45)">VCCO<tspan x="0" dy=".27">304</tspan></text><text transform="translate(20 23)rotate(45)">VCCO<tspan x="0" dy=".27">304</tspan></text><text transform="translate(23 24)rotate(45)">VCCO<tspan x="0" dy=".27">304</tspan></text><text transform="translate(20 26)rotate(45)">VCCO<tspan x="0" dy=".27">304</tspan></text><text transform="translate(13 20)rotate(45)">VCCO<tspan x="0" dy=".27">402</tspan></text><text transform="translate(10 21)rotate(45)">VCCO<tspan x="0" dy=".27">402</tspan></text><text transform="translate(13 22)rotate(45)">VCCO<tspan x="0" dy=".27">402</tspan></text><text transform="translate(7 23)rotate(45)">VCCO<tspan x="0" dy=".27">403</tspan></text><text transform="translate(6 25)rotate(45)">VCCO<tspan x="0" dy=".27">403</tspan></text></g>
</g>
<text x="972" y="476" style="text-anchor:end;font-size:13.2px;font-weight:400;fill:#222;font-family:'Liberation Sans',sans-serif">X29522-081424</text>
</svg>
